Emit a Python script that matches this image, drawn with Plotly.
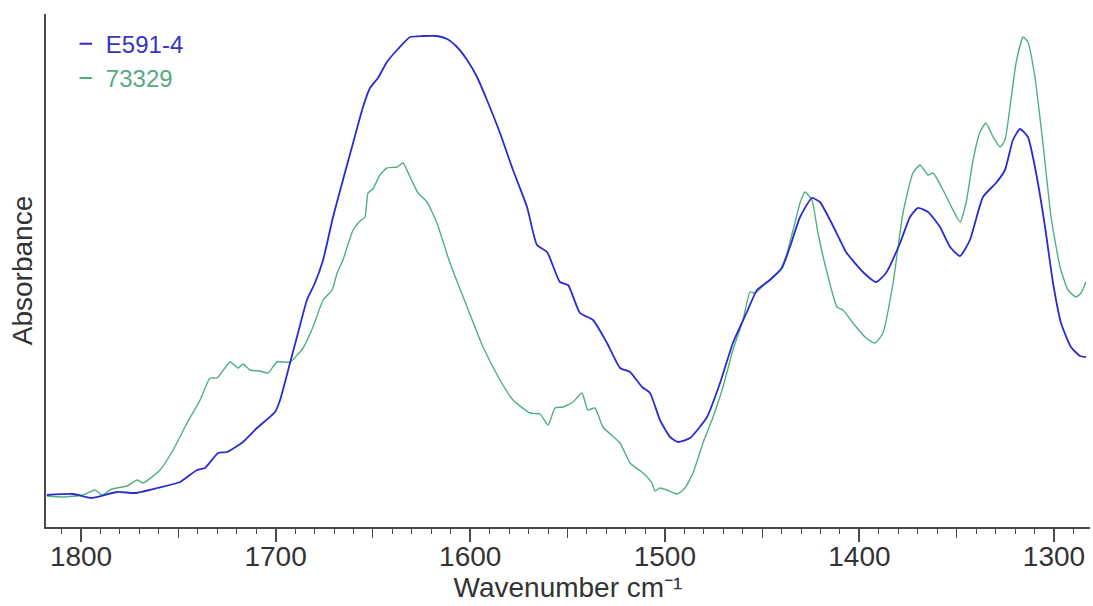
import plotly.graph_objects as go

# Wavenumber (cm^-1) and absorbance (arbitrary units)
wn_e591 = [1817.6, 1804.1, 1794.3, 1781.5, 1772.3, 1760.9, 1749.1, 1740.4, 1736.3, 1729.6,
           1725.0, 1716.8, 1709.6, 1700.3, 1697.7, 1692.6, 1688.5, 1683.9, 1679.8, 1675.6,
           1670.5, 1665.4, 1660.2, 1655.1, 1651.5, 1647.4, 1642.8, 1637.6, 1630.9, 1624.3,
           1617.1, 1611.9, 1606.8, 1601.6, 1596.5, 1591.4, 1584.7, 1578.0, 1570.8, 1565.7,
           1560.5, 1553.9, 1549.7, 1543.6, 1536.9, 1529.7, 1523.0, 1517.9, 1511.7, 1507.6,
           1502.5, 1497.3, 1493.2, 1487.0, 1478.3, 1471.6, 1465.0, 1457.8, 1452.6, 1446.0,
           1439.8, 1435.7, 1430.5, 1424.4, 1420.3, 1415.1, 1410.0, 1406.9, 1398.2, 1391.5,
           1386.3, 1379.1, 1374.0, 1369.9, 1364.7, 1358.6, 1353.4, 1348.3, 1343.2, 1336.5,
           1329.8, 1325.2, 1321.1, 1317.5, 1313.4, 1309.2, 1304.6, 1300.5, 1296.4, 1291.3,
           1286.6, 1283.6]
abs_e591 = [0.064, 0.066, 0.058, 0.070, 0.068, 0.078, 0.090, 0.114, 0.118, 0.148,
            0.150, 0.170, 0.198, 0.230, 0.254, 0.328, 0.388, 0.454, 0.488, 0.534,
            0.620, 0.694, 0.768, 0.840, 0.878, 0.898, 0.930, 0.954, 0.980, 0.982,
            0.982, 0.976, 0.960, 0.934, 0.900, 0.854, 0.788, 0.714, 0.640, 0.564,
            0.550, 0.490, 0.484, 0.428, 0.414, 0.368, 0.318, 0.310, 0.280, 0.268,
            0.214, 0.180, 0.170, 0.178, 0.220, 0.288, 0.368, 0.430, 0.474, 0.494,
            0.518, 0.560, 0.620, 0.658, 0.650, 0.614, 0.574, 0.550, 0.510, 0.490,
            0.508, 0.568, 0.620, 0.638, 0.630, 0.600, 0.560, 0.542, 0.574, 0.660,
            0.688, 0.714, 0.774, 0.796, 0.780, 0.708, 0.600, 0.488, 0.408, 0.360,
            0.342, 0.340]

wn_73329 = [1817.5, 1809.2, 1799.0, 1792.8, 1789.2, 1784.1, 1776.4, 1771.2, 1768.1, 1759.4,
            1752.7, 1745.5, 1738.8, 1733.7, 1730.1, 1723.4, 1719.3, 1716.8, 1713.2, 1708.0,
            1703.9, 1699.3, 1692.6, 1685.9, 1680.8, 1675.6, 1671.0, 1668.4, 1665.4, 1660.2,
            1656.6, 1654.1, 1652.5, 1650.0, 1646.4, 1642.8, 1637.6, 1634.5, 1630.9, 1626.8,
            1622.2, 1617.1, 1610.4, 1601.6, 1593.4, 1584.7, 1578.0, 1569.3, 1564.1, 1560.0,
            1556.4, 1552.3, 1547.2, 1542.6, 1539.5, 1535.9, 1531.8, 1523.0, 1517.9, 1511.2,
            1506.6, 1505.0, 1502.5, 1498.9, 1493.7, 1489.6, 1485.5, 1480.4, 1475.2, 1470.1,
            1465.0, 1459.8, 1456.2, 1453.6, 1447.5, 1440.8, 1437.2, 1434.1, 1430.5, 1428.0,
            1424.4, 1421.3, 1416.6, 1411.5, 1408.4, 1403.3, 1396.6, 1392.0, 1387.9, 1382.7,
            1377.6, 1372.5, 1368.9, 1364.7, 1362.2, 1357.0, 1351.9, 1348.3, 1345.2, 1341.6,
            1338.0, 1335.0, 1331.3, 1327.7, 1325.2, 1322.6, 1319.5, 1315.9, 1313.4, 1309.8,
            1305.7, 1301.5, 1296.9, 1292.8, 1288.7, 1286.1, 1283.6]
abs_73329 = [0.062, 0.060, 0.064, 0.074, 0.064, 0.076, 0.082, 0.094, 0.088, 0.114,
             0.154, 0.208, 0.254, 0.298, 0.298, 0.330, 0.318, 0.326, 0.314, 0.312,
             0.308, 0.330, 0.330, 0.358, 0.400, 0.454, 0.474, 0.508, 0.534, 0.594,
             0.612, 0.620, 0.668, 0.676, 0.704, 0.718, 0.720, 0.728, 0.700, 0.668,
             0.650, 0.608, 0.528, 0.440, 0.360, 0.294, 0.254, 0.228, 0.226, 0.204,
             0.238, 0.240, 0.250, 0.268, 0.234, 0.238, 0.200, 0.168, 0.128, 0.108,
             0.088, 0.072, 0.078, 0.074, 0.066, 0.078, 0.108, 0.168, 0.220, 0.280,
             0.354, 0.414, 0.470, 0.468, 0.490, 0.514, 0.548, 0.594, 0.648, 0.670,
             0.654, 0.588, 0.508, 0.440, 0.434, 0.408, 0.378, 0.368, 0.388, 0.488,
             0.628, 0.708, 0.724, 0.704, 0.708, 0.674, 0.634, 0.610, 0.648, 0.734,
             0.790, 0.808, 0.780, 0.760, 0.774, 0.840, 0.928, 0.980, 0.970, 0.900,
             0.768, 0.620, 0.520, 0.474, 0.460, 0.468, 0.490]

series_names = ["E591-4", "73329"]
line_colors = ["#2b2bd2", "#4fb07f"]
text_colors = ["#3535c4", "#5aa883"]

major_ticks = [1300, 1400, 1500, 1600, 1700, 1800]
mid_ticks = [1350, 1450, 1550, 1650, 1750]

FONT = "Liberation Sans, Arial, sans-serif"
AX = "#4a4a4a"
x_range = [1818.0, 1281.5]

fig = go.Figure()
fig.add_trace(go.Scatter(x=wn_73329, y=abs_73329, mode="lines", showlegend=False,
                         line=dict(color=line_colors[1], width=1.4, shape="spline", smoothing=0.5),
                         name=series_names[1]))
fig.add_trace(go.Scatter(x=wn_e591, y=abs_e591, mode="lines", showlegend=False,
                         line=dict(color=line_colors[0], width=1.8, shape="spline", smoothing=0.5),
                         name=series_names[0]))

# legend entries (short dash + coloured label)
for nm, lc, tc in zip(series_names, line_colors, text_colors):
    fig.add_trace(go.Scatter(x=[None], y=[None], mode="markers", name=f'<span style="color:{tc}">{nm}</span>',
                             marker=dict(symbol="line-ew", size=9, line=dict(color=lc, width=2))))

# mid-length ticks at 50s
fig.add_trace(go.Scatter(x=[None], y=[None], xaxis="x2", showlegend=False, hoverinfo="skip"))

fig.update_layout(
    width=1093, height=606,
    margin=dict(l=46, r=3, t=14, b=79),
    paper_bgcolor="white", plot_bgcolor="white",
    font=dict(family=FONT, color="#333333"),
    showlegend=True,
    legend=dict(x=0.019, xanchor="left", y=0.985, yanchor="top", itemwidth=30,
                font=dict(size=24, family=FONT), bgcolor="rgba(0,0,0,0)", tracegroupgap=0,
                traceorder="normal"),
    xaxis=dict(range=x_range, showgrid=False, zeroline=False,
               showline=True, linecolor=AX, linewidth=2,
               tickmode="array", tickvals=major_ticks, ticktext=[str(v) for v in major_ticks],
               ticks="outside", ticklen=13, tickwidth=1.5, tickcolor=AX,
               ticklabelstandoff=-10,
               tickfont=dict(size=28, family=FONT, color="#333333"),
               minor=dict(dtick=10, tick0=1300, ticks="outside", ticklen=5, tickwidth=1.2, tickcolor=AX),
               title=dict(text="Wavenumber cm⁻¹", font=dict(size=28, family=FONT, color="#333333"), standoff=0)),
    xaxis2=dict(range=x_range, overlaying="x", anchor="y", side="bottom", showgrid=False, zeroline=False,
                showline=False, tickmode="array", tickvals=mid_ticks, showticklabels=False,
                ticks="outside", ticklen=10, tickwidth=1.4, tickcolor=AX),
    yaxis=dict(range=[0, 1.026], showgrid=False, zeroline=False, showline=True, linecolor=AX, linewidth=2,
               ticks="", showticklabels=False,
               title=dict(text="Absorbance", font=dict(size=28, family=FONT, color="#333333"), standoff=3)),
)

fig.write_html("out.html")
